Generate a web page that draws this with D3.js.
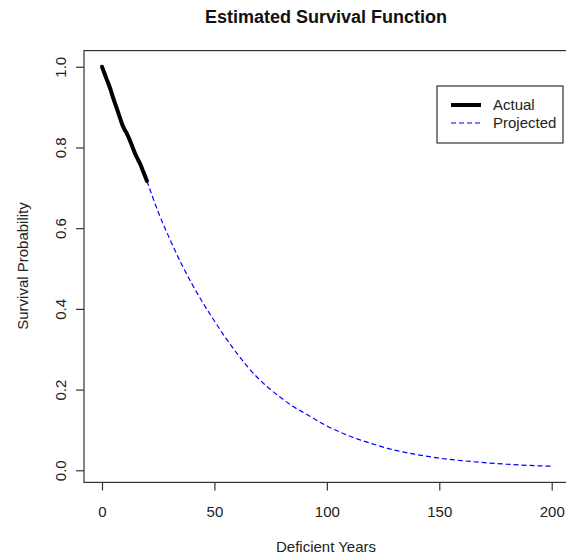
<!DOCTYPE html>
<html><head><meta charset="utf-8">
<script src="https://cdn.jsdelivr.net/npm/d3@7"></script>
<style>body{margin:0;background:#fff}svg{display:block;font-family:"Liberation Sans",Arial,sans-serif}</style>
</head><body><div id="chart"></div>
<script>
const actualYears = [0,1,2,3,4,5,6,7,8,9,10,11,12,13,14,15,16,17,18,19,20];
const actualSurv  = [1.0,0.985,0.97,0.956,0.94,0.922,0.906,0.89,0.873,0.857,0.845,0.835,0.823,0.809,0.795,0.781,0.77,0.759,0.745,0.731,0.717];
const projYears = [20,25,30,35,40,45,50,55,60,65,70,75,80,85,90,100,110,120,130,140,150,160,170,180,190,200];
const projSurv  = [0.717,0.64,0.575,0.515,0.462,0.414,0.37,0.328,0.29,0.255,0.225,0.2,0.178,0.158,0.142,0.11,0.085,0.066,0.05,0.039,0.03,0.024,0.019,0.015,0.012,0.01];
const xTicks = [0,50,100,150,200];
const yTicks = [0.0,0.2,0.4,0.6,0.8,1.0];
const seriesNames = ["Actual","Projected"];

const W=566,H=558;
const svg=d3.select("#chart").append("svg").attr("width",W).attr("height",H);
const x=d3.scaleLinear().domain([-8,208]).range([84,569.7]);
const y=d3.scaleLinear().domain([-0.03,1.04]).range([482.4,50.6]);

svg.append("rect").attr("x",84).attr("y",y(1.04)).attr("width",569.7-84).attr("height",y(-0.03)-y(1.04))
  .attr("fill","none").attr("stroke","#333").attr("stroke-width",1.2);

const xAxis=svg.append("g").attr("transform",`translate(0,${y(-0.03)})`)
  .call(d3.axisBottom(x).tickValues(xTicks).tickSize(8).tickPadding(16).tickFormat(d3.format("d")));
xAxis.select(".domain").remove();
xAxis.selectAll("line").attr("stroke","#333").attr("stroke-width",1.2);
xAxis.selectAll("text").attr("font-size","15px").attr("fill","#222");

const yAxis=svg.append("g").attr("transform","translate(84,0)")
  .call(d3.axisLeft(y).tickValues(yTicks).tickSize(8).tickFormat(d3.format(".1f")));
yAxis.select(".domain").remove();
yAxis.selectAll("line").attr("stroke","#333").attr("stroke-width",1.2);
yAxis.selectAll("text").attr("font-size","15px").attr("fill","#222")
  .attr("text-anchor","middle").attr("dy",null)
  .attr("transform",`translate(-22,0) rotate(-90)`).attr("x",0).attr("y",0).attr("dominant-baseline","middle");

const line=d3.line().x(d=>x(d[0])).y(d=>y(d[1])).curve(d3.curveMonotoneX);
svg.append("path").datum(projYears.map((v,i)=>[v,projSurv[i]]))
  .attr("d",line).attr("fill","none").attr("stroke","#0000ff").attr("stroke-width",1.2).attr("stroke-dasharray","5,3");
svg.append("path").datum(actualYears.map((v,i)=>[v,actualSurv[i]]))
  .attr("d",line).attr("fill","none").attr("stroke","#000").attr("stroke-width",4).attr("stroke-linecap","round");

svg.append("text").attr("x",326).attr("y",23).attr("text-anchor","middle").attr("font-size","18px").attr("font-weight","bold").attr("fill","#111").text("Estimated Survival Function");
svg.append("text").attr("x",326).attr("y",552).attr("text-anchor","middle").attr("font-size","15px").attr("fill","#222").text("Deficient Years");
svg.append("text").attr("transform","translate(28,266) rotate(-90)").attr("text-anchor","middle").attr("font-size","15px").attr("fill","#222").text("Survival Probability");

const lg=svg.append("g");
lg.append("rect").attr("x",437).attr("y",86).attr("width",126).attr("height",57).attr("fill","#fff").attr("stroke","#333").attr("stroke-width",1.2);
const styles=[{c:"#000",w:4,d:null},{c:"#0000ff",w:1.2,d:"5,3"}];
seriesNames.forEach((n,i)=>{
  const yy=105+i*18;
  lg.append("line").attr("x1",451).attr("x2",481).attr("y1",yy).attr("y2",yy)
    .attr("stroke",styles[i].c).attr("stroke-width",styles[i].w).attr("stroke-dasharray",styles[i].d);
  lg.append("text").attr("x",493).attr("y",yy).attr("dy","0.35em").attr("font-size","15px").attr("fill","#222").text(n);
});
</script></body></html>
